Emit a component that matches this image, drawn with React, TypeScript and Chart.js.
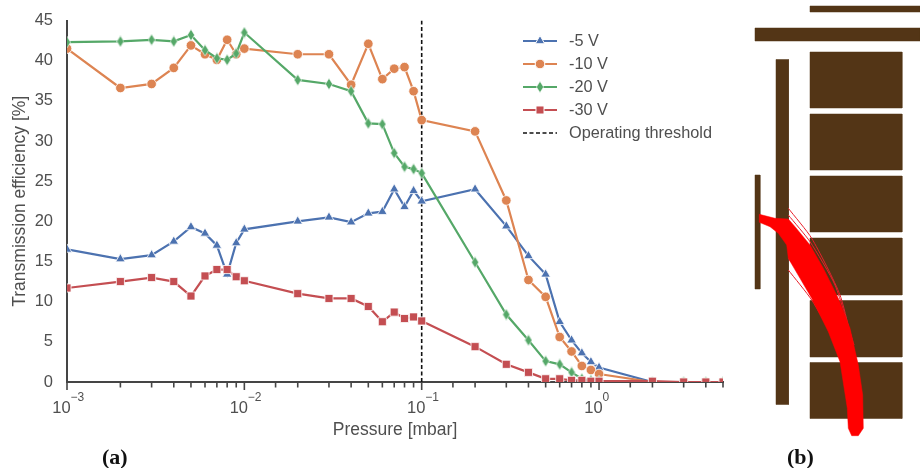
import React, { useEffect, useRef } from "react";
import { Chart, registerables } from "chart.js";
import { drawPoint } from "chart.js/helpers";

Chart.register(...registerables);

const pressure = [0.001, 0.002, 0.003, 0.004, 0.005, 0.006, 0.007, 0.008, 0.009, 0.01, 0.02, 0.03, 0.04, 0.05, 0.06, 0.07, 0.08, 0.09, 0.1, 0.2, 0.3, 0.4, 0.5, 0.6, 0.7, 0.8, 0.9, 1, 2, 3, 4, 5];
const minus5 = [16.5, 15.3, 15.8, 17.5, 19.3, 18.5, 17, 13.4, 17.3, 19, 20, 20.5, 19.9, 21, 21.2, 24, 21.8, 23.8, 22.5, 24, 19.4, 15.7, 13.4, 7.5, 5.2, 3.6, 2.5, 1.8, 0, 0, 0, 0];
const minus10 = [41.5, 36.6, 37.1, 39.1, 41.9, 40.8, 40.1, 42.6, 40.8, 41.5, 40.8, 40.8, 37, 42.1, 37.7, 39, 39.2, 36.2, 32.6, 31.2, 22.6, 12.7, 10.6, 5.6, 3.8, 2, 1.5, 1, 0, 0, 0, 0];
const minus20 = [42.3, 42.4, 42.6, 42.4, 43.2, 41.3, 40.3, 40.1, 40.9, 43.5, 37.6, 37.1, 36.2, 32.2, 32.1, 28.5, 26.8, 26.5, 26, 14.9, 8.4, 5.2, 2.6, 2.2, 1.2, 0.4, 0.2, 0.1, 0, 0, 0, 0];
const minus30 = [11.7, 12.5, 13, 12.5, 10.7, 13.2, 14, 14, 13.1, 12.6, 11, 10.4, 10.4, 9.4, 7.5, 8.7, 7.9, 8.1, 7.6, 4.4, 2.2, 1.2, 0.4, 0.4, 0.2, 0.2, 0.1, 0.1, 0.1, 0, 0, 0];
const thresholdX = [0.1, 0.1];
const thresholdY = [0, 45];
const yTicks = [0, 5, 10, 15, 20, 25, 30, 35, 40, 45];
const decadeExponents: Record<string, string> = { "0.001": "−3", "0.01": "−2", "0.1": "−1", "1": "0" };

const rectBars = [
  [70, 6, 180, 12], [15, 28, 180, 41], [36, 59.5, 48.5, 404.5], [15, 175, 20, 289],
  [70, 52, 162, 108], [70, 114, 162, 170], [70, 176, 162, 232], [70, 238, 162, 295], [70, 300.5, 162, 357], [70, 362.5, 162, 418.5],
];
const beamOutline = [
  [19.3, 214.3], [35, 218.3], [48.3, 219], [55, 226.7], [70, 245], [83.3, 268.3], [98.3, 298.3], [110, 328.3], [118.3, 365], [122.7, 395], [123.3, 428.3],
  [118.3, 435.7], [111.7, 435.7], [108.3, 428.3], [107.3, 408.3], [100, 361.7], [88.3, 331.7], [71.7, 298.3], [60, 278.3], [48.3, 258.3], [46.7, 245], [38.3, 233.3], [30, 226.7], [19.3, 222.3],
];
const beamStrands = [
  [[48.3, 208.3], [71.7, 238.3], [100, 295], [116.7, 361.7]],
  [[48.3, 215], [70, 241.7], [95, 285], [114, 345]],
  [[48.3, 258.3], [71.7, 288.3]],
  [[48.3, 270], [71.7, 300], [93.3, 338.3], [101.7, 361.7]],
];

const AXIS = "#454545";
const TEXT = "#4f4f4f";
const FONT = '"Liberation Sans", Arial, sans-serif';
const COLORS = { blue: "#4c72b0", orange: "#dd8452", green: "#55a868", red: "#c44e52" };

function thinDiamond(color: string) {
  const c = document.createElement("canvas");
  c.width = 8;
  c.height = 12;
  const g = c.getContext("2d")!;
  g.beginPath();
  g.moveTo(4, 0.3);
  g.lineTo(7.6, 6);
  g.lineTo(4, 11.7);
  g.lineTo(0.4, 6);
  g.closePath();
  g.fillStyle = color;
  g.fill();
  g.strokeStyle = "#ffffff";
  g.lineWidth = 0.6;
  g.stroke();
  return c;
}

const toPts = (xs: number[], ys: number[]) => xs.map((x, i) => ({ x, y: ys[i] }));

const xTickPlugin = {
  id: "xTicks",
  afterDraw(chart: any) {
    const { ctx, scales } = chart;
    const x = scales.x;
    const y0 = chart.chartArea.bottom;
    ctx.save();
    ctx.strokeStyle = AXIS;
    ctx.lineWidth = 1.6;
    x.ticks.forEach((t: any) => {
      const exponent = decadeExponents[String(t.value)];
      const px = x.getPixelForValue(t.value);
      ctx.beginPath();
      ctx.moveTo(px, y0);
      ctx.lineTo(px, y0 + (exponent !== undefined ? 8 : 5.5));
      ctx.stroke();
      if (exponent !== undefined) {
        ctx.fillStyle = TEXT;
        ctx.font = `12px ${FONT}`;
        ctx.textAlign = "left";
        ctx.textBaseline = "middle";
        ctx.fillText(exponent, px + 3.5, 398);
      }
    });
    ctx.restore();
  },
};

const legendPlugin = {
  id: "manualLegend",
  afterDraw(chart: any) {
    const { ctx } = chart;
    const x0 = 523;
    const x1 = 557;
    ctx.save();
    chart.data.datasets.forEach((ds: any, r: number) => {
      const y = 41 + r * 23;
      ctx.strokeStyle = ds.borderColor;
      ctx.lineWidth = ds.borderWidth;
      ctx.setLineDash(ds.borderDash || []);
      ctx.beginPath();
      ctx.moveTo(x0, y);
      ctx.lineTo(x1, y);
      ctx.stroke();
      ctx.setLineDash([]);
      if (ds.pointRadius > 0) {
        ctx.fillStyle = ds.pointBackgroundColor;
        ctx.strokeStyle = "#ffffff";
        ctx.lineWidth = 1;
        drawPoint(ctx, { pointStyle: ds.pointStyle, rotation: 0, radius: ds.pointRadius, borderWidth: 1 }, (x0 + x1) / 2, y);
      }
      ctx.fillStyle = TEXT;
      ctx.font = `16.3px ${FONT}`;
      ctx.textAlign = "left";
      ctx.textBaseline = "middle";
      ctx.fillText(ds.label, 569, y + 0.5);
    });
    ctx.restore();
  },
};

export default function App() {
  const mainRef = useRef<HTMLCanvasElement>(null);
  const schemaRef = useRef<HTMLCanvasElement>(null);

  useEffect(() => {
    document.body.style.margin = "0";
    document.body.style.background = "#ffffff";

    const line = (label: string, ys: number[], color: string, pointStyle: any, radius: number, order: number) => ({
      label,
      data: toPts(pressure, ys),
      borderColor: color,
      backgroundColor: color,
      pointBackgroundColor: color,
      pointBorderColor: "#ffffff",
      pointBorderWidth: 0.8,
      pointStyle,
      pointRadius: radius,
      borderWidth: 2.2,
      tension: 0,
      order,
    });

    const main = new Chart(mainRef.current!, {
      type: "line",
      data: {
        datasets: [
          line("-5 V", minus5, COLORS.blue, "triangle", 5.5, 4),
          line("-10 V", minus10, COLORS.orange, "circle", 4.8, 3),
          line("-20 V", minus20, COLORS.green, thinDiamond(COLORS.green), 6, 2),
          line("-30 V", minus30, COLORS.red, "rect", 5.7, 1),
          {
            label: "Operating threshold",
            data: toPts(thresholdX, thresholdY),
            borderColor: "#111111",
            borderWidth: 1.6,
            borderDash: [4, 2.5],
            pointRadius: 0,
            tension: 0,
            order: 5,
          },
        ] as any,
      },
      options: {
        responsive: false,
        animation: false,
        layout: { padding: { left: 0, top: 20.5, right: 13.3, bottom: 0 } },
        plugins: { legend: { display: false }, tooltip: { enabled: false } },
        scales: {
          x: {
            type: "logarithmic",
            min: 0.001,
            max: 5,
            afterFit: (s: any) => { s.height = 86; },
            grid: { display: false, drawTicks: false },
            border: { display: true, color: AXIS, width: 2 },
            ticks: {
              autoSkip: false,
              maxRotation: 0,
              padding: 17,
              labelOffset: -5.5,
              color: TEXT,
              font: { family: FONT, size: 16.5 },
              callback: (v: any) => (decadeExponents[String(v)] !== undefined ? "10" : ""),
            },
            title: {
              display: true,
              text: "Pressure [mbar]",
              color: TEXT,
              font: { family: FONT, size: 17.5 },
              padding: { top: 0, bottom: 27 },
            },
          },
          y: {
            type: "linear",
            min: 0,
            max: 45,
            afterFit: (s: any) => { s.width = 67; },
            afterBuildTicks: (s: any) => { s.ticks = yTicks.map((value) => ({ value })); },
            grid: { display: false, drawTicks: true, tickLength: 9, tickColor: AXIS, tickWidth: 1.6 },
            border: { display: true, color: AXIS, width: 2 },
            ticks: {
              padding: 5,
              color: TEXT,
              font: { family: FONT, size: 16.5 },
            },
            title: {
              display: true,
              text: "Transmission efficiency [%]",
              color: TEXT,
              font: { family: FONT, size: 17.5 },
              padding: { top: 10, bottom: 0 },
            },
          },
        },
      } as any,
      plugins: [xTickPlugin, legendPlugin],
    });

    const poly = (pts: number[][], color: string) => ({
      data: pts.concat([pts[0]]).map(([x, y]) => ({ x, y })),
      showLine: true,
      fill: "shape",
      backgroundColor: color,
      borderColor: color,
      borderWidth: 0.5,
      pointRadius: 0,
      tension: 0,
    });
    const rectPoints = ([a, b, c, d]: number[]) => [[a, b], [c, b], [c, d], [a, d]];
    const strand = (pts: number[][]) => ({
      data: pts.map(([x, y]) => ({ x, y })),
      showLine: true,
      fill: false,
      borderColor: "#e8202a",
      borderWidth: 1,
      pointRadius: 0,
      tension: 0.2,
    });

    const schema = new Chart(schemaRef.current!, {
      type: "scatter",
      data: {
        datasets: [
          poly(beamOutline, "#ff0000"),
          ...beamStrands.map(strand),
          ...rectBars.map((r) => poly(rectPoints(r), "#533516")),
        ] as any,
      },
      options: {
        responsive: false,
        animation: false,
        plugins: { legend: { display: false }, tooltip: { enabled: false } },
        scales: {
          x: { type: "linear", min: 0, max: 180, display: false },
          y: { type: "linear", min: 0, max: 468, reverse: true, display: false },
        },
      } as any,
    });

    return () => {
      main.destroy();
      schema.destroy();
    };
  }, []);

  const caption: React.CSSProperties = {
    position: "absolute",
    top: 446,
    font: 'bold 22px "Liberation Serif", "Times New Roman", serif',
    color: "#111111",
    lineHeight: "22px",
  };

  return (
    <div style={{ position: "relative", width: 920, height: 468, overflow: "hidden", background: "#fff" }}>
      <canvas ref={mainRef} width={740} height={468} style={{ position: "absolute", left: 0, top: 0, filter: "blur(0.4px)" }} />
      <canvas ref={schemaRef} width={180} height={468} style={{ position: "absolute", left: 740, top: 0, filter: "blur(0.3px)" }} />
      <div style={{ ...caption, left: 102 }}>(a)</div>
      <div style={{ ...caption, left: 787 }}>(b)</div>
    </div>
  );
}
